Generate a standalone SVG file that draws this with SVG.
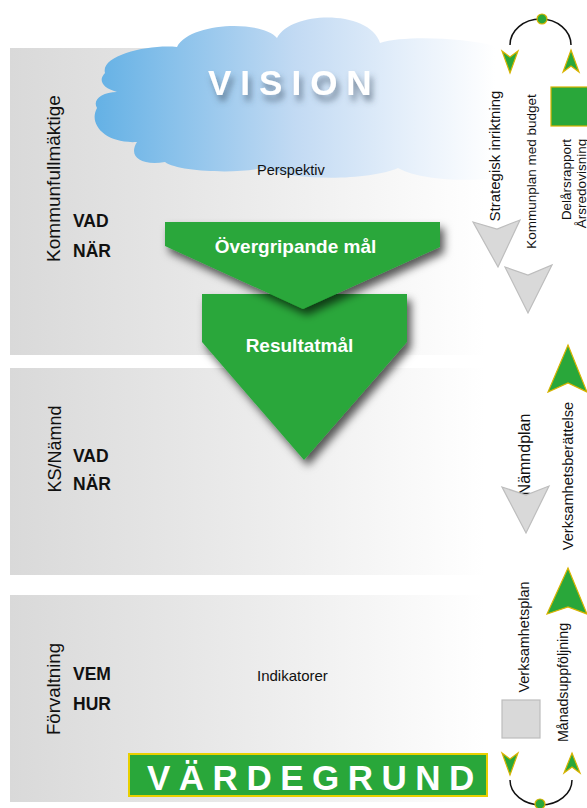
<svg xmlns="http://www.w3.org/2000/svg" width="587" height="808" viewBox="0 0 587 808">
<defs>
<linearGradient id="panelGrad" gradientUnits="userSpaceOnUse" x1="10" y1="0" x2="485" y2="0">
<stop offset="0" stop-color="#d9d9d9"/>
<stop offset="0.5" stop-color="#ebebeb"/>
<stop offset="1" stop-color="#ffffff"/>
</linearGradient>
<linearGradient id="cloudGrad" gradientUnits="userSpaceOnUse" x1="95" y1="0" x2="495" y2="0">
<stop offset="0" stop-color="#64b1e5"/>
<stop offset="0.5" stop-color="#c2daf3"/>
<stop offset="0.8" stop-color="#e8f1fb"/>
<stop offset="1" stop-color="#ffffff"/>
</linearGradient>
<filter id="chevShadow" x="-20%" y="-20%" width="150%" height="150%">
<feDropShadow dx="4" dy="6" stdDeviation="4" flood-color="#000" flood-opacity="0.65"/>
</filter>
<filter id="textShadow" x="-20%" y="-40%" width="140%" height="200%">
<feGaussianBlur in="SourceAlpha" stdDeviation="3" result="b"/>
<feOffset in="b" dx="3" dy="6" result="o"/>
<feFlood flood-color="#3d4f63" flood-opacity="0.6"/>
<feComposite in2="o" operator="in" result="s"/>
<feMerge><feMergeNode in="s"/><feMergeNode in="SourceGraphic"/></feMerge>
</filter>
</defs>
<style>
.lbl{font-family:"Liberation Sans",Arial,sans-serif;fill:#111;}
.bold{font-family:"Liberation Sans",Arial,sans-serif;font-weight:bold;fill:#111;}
.wht{font-family:"Liberation Sans",Arial,sans-serif;font-weight:bold;fill:#fff;}
.grn{fill:#29a73a;stroke:#d9b300;stroke-width:1.2;}
.gry{fill:#d9d9d9;stroke:#bdbdbd;stroke-width:1.2;}
.chev{fill:#29a73a;filter:url(#chevShadow);}
.arc{fill:none;stroke:#111;stroke-width:1.5;}
</style>

<g id="panels">
<rect id="panel-kf" x="10" y="48" width="480" height="307" fill="url(#panelGrad)"/>
<rect id="panel-ks" x="10" y="368" width="480" height="207" fill="url(#panelGrad)"/>
<rect id="panel-forv" x="10" y="595" width="480" height="207" fill="url(#panelGrad)"/>
</g>

<g id="vision">
<path d="M105,73 C100,55 150,44 177,47 C190,22 262,20 277,38 C292,10 370,10 380,43 C405,35 465,38 495,46 L495,178 C465,182 420,180 398,168 C370,180 300,182 262,168 C238,174 178,172 165,162 C140,166 128,156 137,142 C105,144 88,124 97,108 C92,100 102,92 117,92 C102,88 98,80 105,73 Z" fill="url(#cloudGrad)"/>
<text x="208" y="95" class="wht" font-size="35" letter-spacing="9" filter="url(#textShadow)">VISION</text>
<text x="257" y="175" class="lbl" font-size="14.5">Perspektiv</text>
</g>

<g id="level-labels">
<text class="lbl" font-size="19" text-anchor="middle" transform="translate(60,178.5) rotate(-90)">Kommunfullmäktige</text>
<text class="bold" x="73" y="227" font-size="17.5">VAD</text>
<text class="bold" x="73" y="257" font-size="17.5">NÄR</text>
<text class="lbl" font-size="18" text-anchor="middle" transform="translate(61,449) rotate(-90)">KS/Nämnd</text>
<text class="bold" x="73" y="462" font-size="17.5">VAD</text>
<text class="bold" x="73" y="490" font-size="17.5">NÄR</text>
<text class="lbl" font-size="18.6" text-anchor="middle" transform="translate(60,689) rotate(-90)">Förvaltning</text>
<text class="bold" x="73" y="680" font-size="17.5">VEM</text>
<text class="bold" x="73" y="710" font-size="17.5">HUR</text>
<text x="257" y="681" class="lbl" font-size="15">Indikatorer</text>
</g>

<g id="resultatmal">
<polygon class="chev" points="202,294 407,294 407,342 304,460 202,342"/>
<text x="299.5" y="352" class="wht" font-size="19" text-anchor="middle">Resultatmål</text>
</g>

<g id="overgripande-mal">
<polygon class="chev" points="165,222 440,222 440,247 303,309 165,246"/>
<text x="295.5" y="253" class="wht" font-size="19" text-anchor="middle">Övergripande mål</text>
</g>

<g id="vardegrund">
<rect x="129" y="754" width="358" height="42" fill="#29a73a" stroke="#e8d000" stroke-width="2"/>
<text x="147" y="790" class="wht" font-size="35" letter-spacing="8.5">VÄRDEGRUND</text>
</g>

<g id="connectors">
<path class="arc" d="M510,45 A30.5,26 0 0 1 571,45"/>
<path class="arc" d="M510,780 A31,25 0 0 0 572,780"/>
</g>

<g id="cycle-top">
<circle cx="542" cy="19" r="5" class="grn"/>
<polygon class="grn" points="502,51 510,57 518,51 510,73"/>
<polygon class="grn" points="571,50 579,72 571,66 563,72"/>
</g>

<g id="cycle-bottom">
<circle cx="540" cy="804" r="5" class="grn"/>
<polygon class="grn" points="502,753 510,759 518,753 510,775"/>
<polygon class="grn" points="572,753 580,773 572,767 564,773"/>
</g>

<g id="strategisk">
<text class="lbl" font-size="15" text-anchor="middle" transform="translate(500,156) rotate(-90)">Strategisk inriktning</text>
<polygon class="gry" points="473,222 497,229 520,220 498,267"/>
</g>

<g id="kommunplan">
<text class="lbl" font-size="13.5" text-anchor="middle" transform="translate(535.5,171.5) rotate(-90)">Kommunplan med budget</text>
<polygon class="gry" points="505,267 528,275 552,265 528,313"/>
</g>

<g id="delarsrapport">
<rect x="551" y="87" width="40" height="39" fill="#29a73a" stroke="#d9b300" stroke-width="1.2"/>
<text class="lbl" font-size="13.4" text-anchor="middle" transform="translate(571,179.5) rotate(-90)">Delårsrapport</text>
<text class="lbl" font-size="13.5" text-anchor="middle" transform="translate(586,183.5) rotate(-90)">Årsredovisning</text>
</g>

<g id="namndplan">
<text class="lbl" font-size="16" text-anchor="middle" transform="translate(530,454.5) rotate(-90)">Nämndplan</text>
<polygon class="gry" points="502,487 526,495 549,486 526,533"/>
</g>

<g id="verksamhetsberattelse">
<polygon class="grn" points="568,345 587,392 568,383 548,392"/>
<text class="lbl" font-size="14.6" text-anchor="middle" transform="translate(573,476) rotate(-90)">Verksamhetsberättelse</text>
</g>

<g id="verksamhetsplan">
<text class="lbl" font-size="14.5" text-anchor="middle" transform="translate(529,637) rotate(-90)">Verksamhetsplan</text>
<rect x="502" y="700" width="38" height="38" class="gry"/>
</g>

<g id="manadsuppfoljning">
<polygon class="grn" points="568,568 587,614 568,607 547,614"/>
<text class="lbl" font-size="14.2" text-anchor="middle" transform="translate(568,682.5) rotate(-90)">Månadsuppföljning</text>
</g>
</svg>
